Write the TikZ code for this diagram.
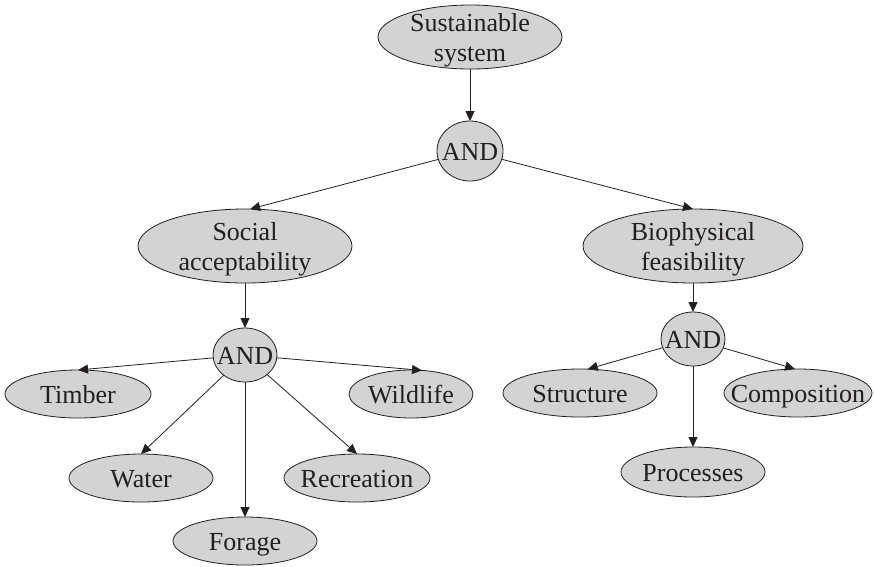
\documentclass[tikz,border=0pt]{standalone}
\usepackage{fontspec}
\setmainfont{Liberation Serif}
\usetikzlibrary{shapes.geometric,arrows.meta}

\definecolor{nodefill}{RGB}{211,211,211}
\definecolor{ink}{RGB}{35,31,32}

% Labels take no room, so each ellipse keeps exactly the size it is given
\newcommand\oneline[1]{\makebox[0pt]{\raisebox{-9.5pt}[0pt][0pt]{#1}}}
\newcommand\twoline[2]{\makebox[0pt]{\raisebox{-24pt}[0pt][0pt]{%
  \begin{tabular}[b]{@{}c@{}}#1\\#2\end{tabular}}}}

\tikzset{
  oval/.style={ellipse, draw=ink, fill=nodefill, line width=0.8pt,
    inner sep=0pt, outer sep=0pt, text=ink,
    font=\fontsize{26}{29.5}\selectfont},
  sz/.style 2 args={minimum width=#1pt, minimum height=#2pt},
  link/.style={draw=ink, line width=0.8pt,
    -{Triangle[length=10pt,width=9pt]}}
}

\begin{document}
\begin{tikzpicture}[x=1pt,y=-1pt]
\useasboundingbox (0,0) rectangle (874,566);

% root and first split
\node[oval, sz={184}{64}] (sust) at (470,37) {\twoline{Sustainable}{system}};
\node[oval, sz={66}{60}] (and1) at (470,151) {\oneline{AND}};

% second level
\node[oval, sz={214}{74}] (social) at (245,246) {\twoline{Social}{acceptability}};
\node[oval, sz={220}{74}] (bio) at (693,246) {\twoline{Biophysical}{feasibility}};

\node[oval, sz={64}{54}] (and2) at (245,355) {\oneline{AND}};
\node[oval, sz={64}{54}] (and3) at (693,339) {\oneline{AND}};

% social leaves
\node[oval, sz={146}{48}] (timber) at (78,394) {\oneline{Timber}};
\node[oval, sz={124}{48}] (wildlife) at (411,394) {\oneline{Wildlife}};
\node[oval, sz={144}{48}] (water) at (141,478) {\oneline{Water}};
\node[oval, sz={146}{48}] (recreation) at (357,478) {\oneline{Recreation}};
\node[oval, sz={144}{48}] (forage) at (245,541) {\oneline{Forage}};

% biophysical leaves
\node[oval, sz={154}{48}] (structure) at (580,393) {\oneline{Structure}};
\node[oval, sz={148}{48}] (composition) at (798,393) {\oneline{Composition}};
\node[oval, sz={144}{50}] (processes) at (693,472) {\oneline{Processes}};

% connectors
\draw[link] (sust) -- (and1);
\draw[link] (and1) -- (social.82);
\draw[link] (and1) -- (bio.north);
\draw[link] (social) -- (and2);
\draw[link] (bio) -- (and3);

\draw[link] (and2) -- (timber.north);
\draw[link] (and2) -- (wildlife.65);
\draw[link] (and2) -- (water.north);
\draw[link] (and2) -- (forage.north);
\draw[link] (and2) -- (recreation.north);

\draw[link] (and3) -- (structure.72);
\draw[link] (and3) -- (composition.97);
\draw[link] (and3) -- (processes.north);
\end{tikzpicture}
\end{document}
